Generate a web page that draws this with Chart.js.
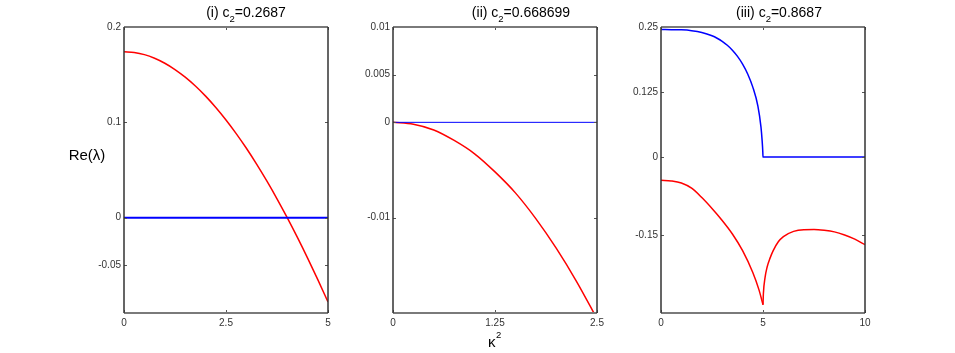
<!DOCTYPE html>
<html>
<head>
<meta charset="utf-8">
<script src="https://cdn.jsdelivr.net/npm/chart.js@4.4.0/dist/chart.umd.min.js"></script>
<style>
  html, body { margin: 0; padding: 0; background: #fff; }
  #wrap { position: relative; width: 955px; height: 353px; }
  #wrap canvas { position: absolute; left: 0; top: 0; }
</style>
</head>
<body>
<div id="wrap">
  <canvas id="g1" width="955" height="353"></canvas>
  <canvas id="g2" width="955" height="353"></canvas>
  <canvas id="g3" width="955" height="353"></canvas>
</div>
<script>
// panel (i)
const k2_i = [0, 0.25, 0.5, 0.75, 1, 1.25, 1.5, 1.75, 2, 2.25, 2.5, 2.75, 3, 3.25, 3.5, 3.75, 4, 4.25, 4.5, 4.75, 5];
const red_i = [0.174, 0.1732, 0.1710, 0.1672, 0.1620, 0.1554, 0.1474, 0.1381, 0.1275, 0.1156, 0.1025,
               0.0882, 0.0728, 0.0562, 0.0385, 0.0198, 0.0, -0.0207, -0.0424, -0.0650, -0.0885];
const k2Blue_i = [0, 5];
const blue_i = [0, 0];
const xTicks_i = [0, 2.5, 5];
const yTicks_i = [0.2, 0.1, 0, -0.05];

// panel (ii)
const k2_ii = [0, 0.25, 0.5, 0.75, 1, 1.25, 1.5, 1.75, 2, 2.25, 2.5];
const red_ii = [0, -0.0002, -0.0008, -0.0019, -0.0033, -0.0052, -0.0074, -0.0101, -0.0132, -0.0167, -0.0206];
const k2Blue_ii = [0, 2.5];
const blue_ii = [0, 0];
const xTicks_ii = [0, 1.25, 2.5];
const yTicks_ii = [0.01, 0.005, 0, -0.01];

// panel (iii)
const k2Blue_iii = [0, 0.5, 1, 1.5, 2, 2.5, 2.75, 3, 3.25, 3.5, 3.75, 4, 4.25, 4.5, 4.75, 4.9, 4.96, 4.99, 5, 10];
const blue_iii = [0.245, 0.2449, 0.2445, 0.2429, 0.2395, 0.2331, 0.2284, 0.2224, 0.2148, 0.2054, 0.1935, 0.1787,
                  0.1597, 0.1344, 0.098, 0.058, 0.030, 0.010, 0, 0];
const k2RedA_iii = [0, 0.5, 1, 1.5, 2, 2.5, 3, 3.5, 4, 4.5, 4.8, 5];
const redA_iii = [-0.0446, -0.046, -0.050, -0.060, -0.078, -0.099, -0.122, -0.148, -0.180, -0.222, -0.255, -0.284];
const k2RedB_iii = [5, 5.02, 5.1, 5.2, 5.35, 5.5, 5.75, 6, 6.5, 7, 7.5, 8, 8.5, 9, 9.5, 10];
const redB_iii = [-0.284, -0.262, -0.232, -0.212, -0.194, -0.180, -0.163, -0.153, -0.143, -0.1398, -0.1395, -0.141, -0.144, -0.150, -0.158, -0.1686];
const xTicks_iii = [0, 5, 10];
const yTicks_iii = [0.25, 0.125, 0, -0.15];

// titles and axis labels
const titlePre = ['(i) c', '(ii) c', '(iii) c'];
const titlePost = ['=0.2687', '=0.668699', '=0.8687'];
const titleCenter = [246, 521, 779];
const yLabel = 'Re(\u03bb)';
const xLabel = '\u03ba';

const FONT = "'Liberation Sans', Arial, Helvetica, sans-serif";

const pts = (xs, ys) => xs.map((x, i) => ({ x: x, y: ys[i] }));

function decor(idx, extra) {
  return {
    id: 'decor' + idx,
    afterDraw(chart) {
      const c = chart.ctx, a = chart.chartArea;
      const xs = chart.scales.x, ys = chart.scales.y;
      c.save();
      // inward tick marks on all four sides
      c.strokeStyle = '#555';
      c.lineWidth = 1;
      c.beginPath();
      xs.ticks.forEach(t => {
        const px = Math.round(xs.getPixelForValue(t.value)) + 0.5;
        c.moveTo(px, a.bottom); c.lineTo(px, a.bottom - 3);
        c.moveTo(px, a.top); c.lineTo(px, a.top + 3);
      });
      ys.ticks.forEach(t => {
        const py = Math.round(ys.getPixelForValue(t.value)) + 0.5;
        c.moveTo(a.left, py); c.lineTo(a.left + 3, py);
        c.moveTo(a.right, py); c.lineTo(a.right - 3, py);
      });
      c.stroke();
      // box
      c.strokeStyle = '#7a7a7a';
      c.lineWidth = 2;
      c.beginPath();
      c.moveTo(a.left, a.top); c.lineTo(a.right, a.top);
      c.moveTo(a.left, a.bottom); c.lineTo(a.right, a.bottom);
      c.stroke();
      c.strokeStyle = '#333';
      c.lineWidth = 1.5;
      c.beginPath();
      c.moveTo(a.left, a.top); c.lineTo(a.left, a.bottom);
      c.moveTo(a.right, a.top); c.lineTo(a.right, a.bottom);
      c.stroke();
      // title with subscript
      c.fillStyle = '#000';
      c.textBaseline = 'alphabetic';
      c.textAlign = 'left';
      c.font = '14px ' + FONT;
      const w1 = c.measureText(titlePre[idx]).width;
      const w3 = c.measureText(titlePost[idx]).width;
      c.font = '9.5px ' + FONT;
      const w2 = c.measureText('2').width;
      let x0 = titleCenter[idx] - (w1 + w2 + w3) / 2;
      c.font = '14px ' + FONT;
      c.fillText(titlePre[idx], x0, 17);
      c.font = '9.5px ' + FONT;
      c.fillText('2', x0 + w1, 21.5);
      c.font = '14px ' + FONT;
      c.fillText(titlePost[idx], x0 + w1 + w2, 17);
      if (extra) extra(c, a);
      c.restore();
    }
  };
}

function makePanel(id, idx, plotLeft, plotRight, xMax, yMin, yMax, xTicks, yTicks, datasets, extra) {
  const setTicks = list => scale => { scale.ticks = list.map(v => ({ value: v })); };
  new Chart(document.getElementById(id), {
    type: 'scatter',
    data: { datasets: datasets },
    options: {
      responsive: false,
      animation: false,
      devicePixelRatio: 1,
      layout: { padding: { left: plotLeft - 40, right: 955 - plotRight, top: 27, bottom: 10 } },
      plugins: { legend: { display: false }, tooltip: { enabled: false }, title: { display: false } },
      elements: { point: { radius: 0 } },
      scales: {
        x: {
          type: 'linear', min: 0, max: xMax,
          afterBuildTicks: setTicks(xTicks),
          afterFit: s => { s.height = 30; },
          grid: { display: false, drawTicks: false }, border: { display: false },
          ticks: { padding: 4, color: '#333', font: { family: FONT, size: 10 }, maxRotation: 0,
                   callback: v => String(v) }
        },
        y: {
          type: 'linear', min: yMin, max: yMax,
          afterBuildTicks: setTicks(yTicks),
          afterFit: s => { s.width = 40; },
          grid: { display: false, drawTicks: false }, border: { display: false },
          ticks: { padding: 3, color: '#333', font: { family: FONT, size: 10 },
                   callback: v => String(v) }
        }
      }
    },
    plugins: [decor(idx, extra)]
  });
}

makePanel('g1', 0, 124, 328, 5, -0.1, 0.2, xTicks_i, yTicks_i, [
  { data: pts(k2Blue_i, blue_i), showLine: true, borderColor: '#0000ff', borderWidth: 2 },
  { data: pts(k2_i, red_i), showLine: true, borderColor: '#ff0000', borderWidth: 1.5, cubicInterpolationMode: 'monotone' }
], (c, a) => {
  c.font = '15px ' + FONT;
  c.textAlign = 'center';
  c.fillText(yLabel, 87, 160);
});

makePanel('g2', 1, 393, 597, 2.5, -0.02, 0.01, xTicks_ii, yTicks_ii, [
  { data: pts(k2Blue_ii, blue_ii), showLine: true, borderColor: '#0000ff', borderWidth: 1 },
  { data: pts(k2_ii, red_ii), showLine: true, borderColor: '#ff0000', borderWidth: 1.5, cubicInterpolationMode: 'monotone' }
], (c, a) => {
  c.textAlign = 'left';
  c.font = '15px ' + FONT;
  c.fillText(xLabel, 488, 347);
  c.font = '9.5px ' + FONT;
  c.fillText('2', 496, 337.5);
});

makePanel('g3', 2, 661, 865, 10, -0.3, 0.25, xTicks_iii, yTicks_iii, [
  { data: pts(k2Blue_iii, blue_iii), showLine: true, borderColor: '#0000ff', borderWidth: 1.5, cubicInterpolationMode: 'monotone' },
  { data: pts(k2RedA_iii, redA_iii), showLine: true, borderColor: '#ff0000', borderWidth: 1.5, cubicInterpolationMode: 'monotone' },
  { data: pts(k2RedB_iii, redB_iii), showLine: true, borderColor: '#ff0000', borderWidth: 1.5, cubicInterpolationMode: 'monotone' }
]);
</script>
</body>
</html>
